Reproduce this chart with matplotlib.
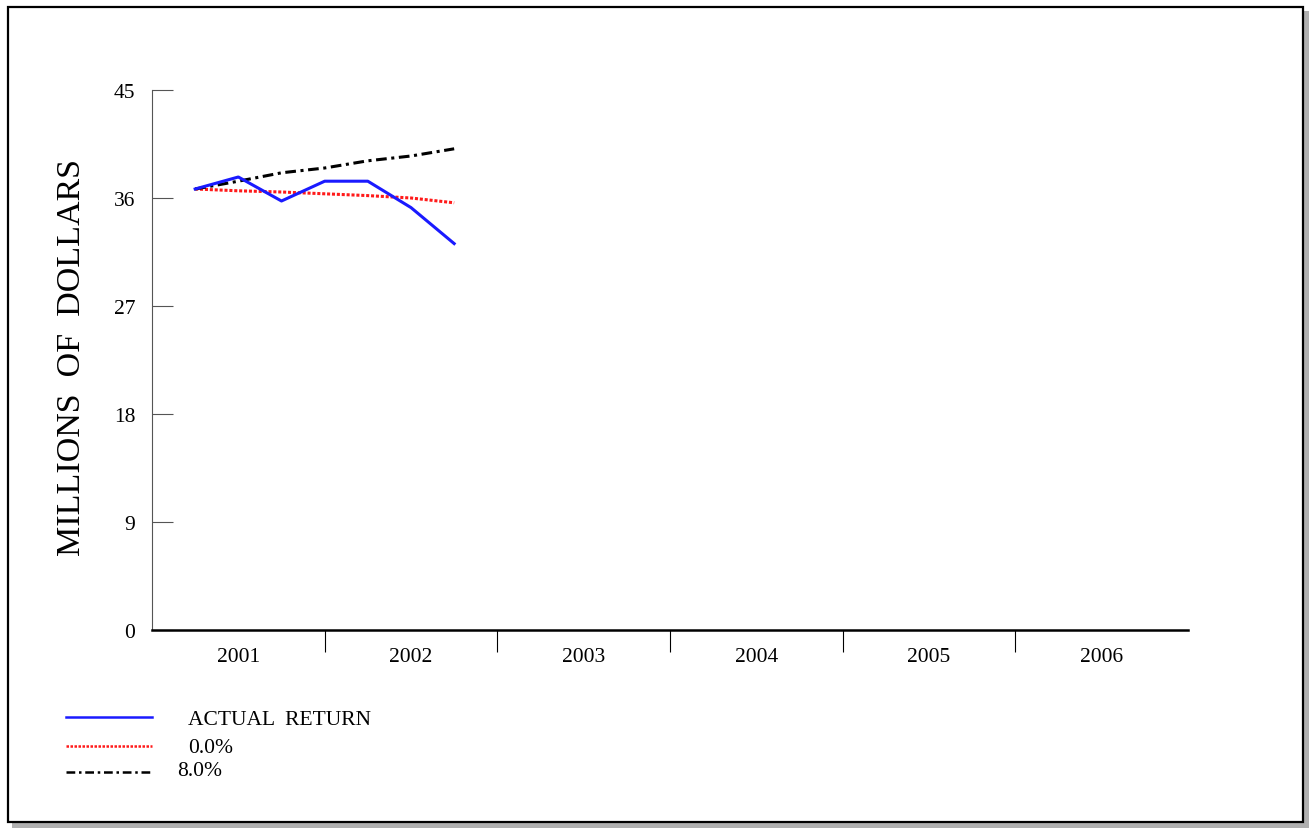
import matplotlib
matplotlib.use("Agg")
import matplotlib.pyplot as plt
from matplotlib.patches import Rectangle
from matplotlib.lines import Line2D

plt.rcParams['font.family'] = ['Liberation Serif', 'DejaVu Serif']

years = ['2001', '2002', '2003', '2004', '2005', '2006']
quarters = [0.25, 0.5, 0.75, 1.0, 1.25, 1.5, 1.75]
actual_return = [36.75, 37.75, 35.75, 37.4, 37.4, 35.2, 32.2]
rate_0 = [36.75, 36.6, 36.5, 36.35, 36.2, 36.0, 35.6]
rate_8 = [36.75, 37.4, 38.1, 38.5, 39.1, 39.5, 40.1]
yticks = [0, 9, 18, 27, 36, 45]

W, H = 1309, 829
fig = plt.figure(figsize=(W / 100, H / 100), dpi=100)

def fx(p):
    return p / W

def fy(p):
    return 1 - p / H

# frame with shadow
fig.add_artist(Rectangle((fx(12), fy(829)), fx(1297), 5 / H, transform=fig.transFigure,
                         facecolor='#b0b0b0', edgecolor='none'))
fig.add_artist(Rectangle((fx(1304), fy(824)), 5 / W, 812 / H, transform=fig.transFigure,
                         facecolor='#b0b0b0', edgecolor='none'))
fig.add_artist(Rectangle((fx(8), fy(823)), fx(1295), 815 / H, transform=fig.transFigure,
                         facecolor='none', edgecolor='black', linewidth=1.6))

ax = fig.add_axes([fx(152), fy(631), fx(1188 - 152), (631 - 91) / H])
ax.set_xlim(0, 6)
ax.set_ylim(0, 45)
for s in ['top', 'right']:
    ax.spines[s].set_visible(False)
ax.spines['left'].set_linewidth(0.8)
ax.spines['left'].set_color('#555555')
ax.spines['bottom'].set_linewidth(1.8)

ax.set_yticks(yticks)
ax.set_yticklabels([str(v) for v in yticks])
ax.tick_params(axis='y', direction='in', length=15, width=0.8, color='#555555',
               labelsize=15.5, pad=12)
ax.set_xticks([1, 2, 3, 4, 5])
ax.set_xticklabels([])
ax.tick_params(axis='x', which='major', direction='out', length=16, width=0.8)
ax.set_xticks([i + 0.5 for i in range(6)], minor=True)
ax.set_xticklabels(years, minor=True)
ax.tick_params(axis='x', which='minor', length=0, labelsize=15.5, pad=12)

ax.plot(quarters, rate_0, color='#ff1a1a', linewidth=2.2, linestyle=(0, (1, 0.6)))
ax.plot(quarters, rate_8, color='black', linewidth=2.2, linestyle=(0, (3.5, 1.5, 1, 1.5)))
ax.plot(quarters, actual_return, color='#1a1aff', linewidth=2.2)

fig.text(fx(72), fy(358), 'MILLIONS  OF  DOLLARS', rotation=90, fontsize=24.5,
         ha='center', va='center')

# legend: (label, colour, style, line y, text y, text x)
leg = [('ACTUAL  RETURN', '#1a1aff', '-', 718, 721, 188),
       ('0.0%', '#ff1a1a', (0, (1, 0.6)), 747, 749, 188),
       ('8.0%', 'black', (0, (3.5, 1.5, 1, 1.5)), 773, 772, 177)]
for label, c, ls, ly, ty, tx in leg:
    fig.add_artist(Line2D([fx(66), fx(152)], [fy(ly), fy(ly)],
                          transform=fig.transFigure,
                          color=c, linestyle=ls, linewidth=1.8))
    fig.text(fx(tx), fy(ty), label, fontsize=15.5, ha='left', va='center')

fig.savefig('out.png', dpi=100)
